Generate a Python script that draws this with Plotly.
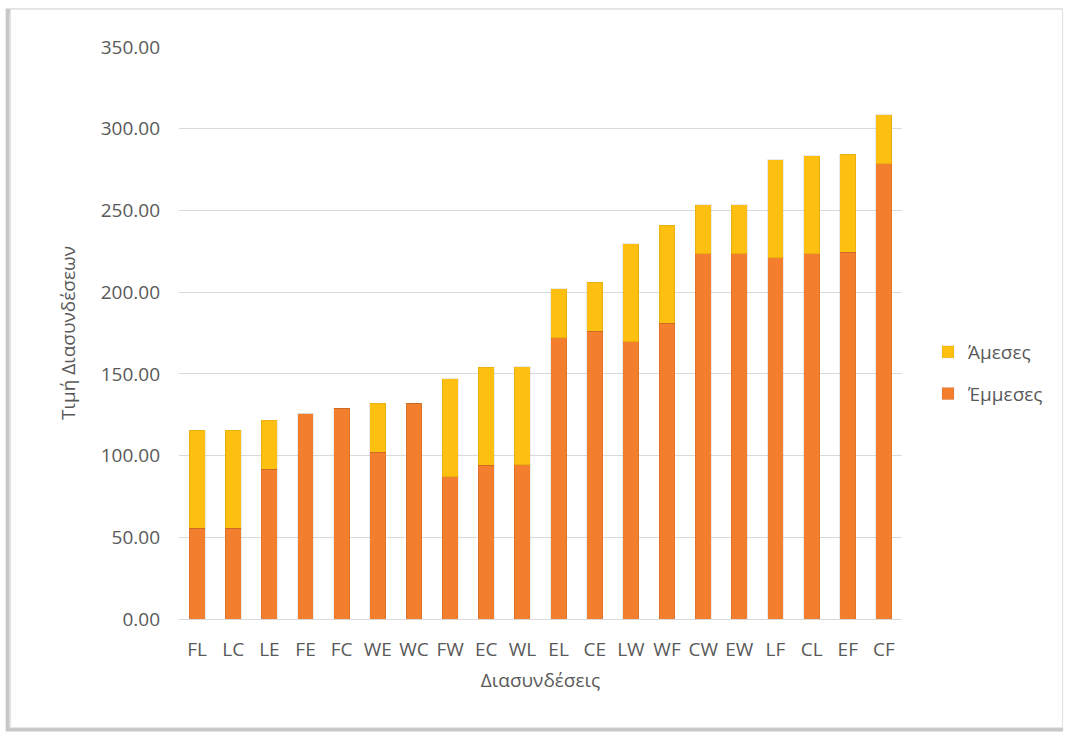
import plotly.graph_objects as go

# Interconnection pairs, sorted by total value
categories = ["FL", "LC", "LE", "FE", "FC", "WE", "WC", "FW", "EC", "WL",
              "EL", "CE", "LW", "WF", "CW", "EW", "LF", "CL", "EF", "CF"]

# Indirect component (bottom segment)
emmeses = [55.5, 55.5, 91.5, 125.5, 129.0, 102.0, 132.0, 87.0, 94.0, 94.5,
           172.0, 176.0, 169.5, 181.0, 223.5, 223.5, 221.0, 223.5, 224.5, 278.5]

# Direct component (top segment)
ameses = [60.0, 60.0, 30.0, 0.0, 0.0, 30.0, 0.0, 60.0, 60.0, 60.0,
          30.0, 30.0, 60.0, 60.0, 30.0, 30.0, 60.0, 60.0, 60.0, 30.0]

y_ticks = [0, 50, 100, 150, 200, 250, 300, 350]

FONT = "Open Sans, Lato, sans-serif"
TEXT_GREY = "#595959"
GRID = "#d9d9d9"
ORANGE = "#F27E2E"
GOLD = "#FDC010"
SIZE = 19

fig = go.Figure()
fig.add_trace(go.Bar(
    name="Έμμεσες", x=categories, y=emmeses,
    marker=dict(color=ORANGE, line=dict(color="rgba(0,0,0,0.08)", width=1)),
    legendgroup="e", legendrank=2,
))
fig.add_trace(go.Bar(
    name="Άμεσες", x=categories, y=ameses,
    marker=dict(color=GOLD, line=dict(color="rgba(0,0,0,0.08)", width=1)),
    legendgroup="a", legendrank=1,
))

fig.update_layout(
    barmode="stack",
    bargap=0.56,
    width=1067, height=734,
    margin=dict(l=179, r=165, t=47, b=115, autoexpand=False),
    paper_bgcolor="white",
    plot_bgcolor="white",
    font=dict(family=FONT, size=SIZE, color=TEXT_GREY),
    showlegend=True,
    legend=dict(
        x=1.036, xanchor="left", y=0.43, yanchor="middle",
        traceorder="grouped", tracegroupgap=14,
        font=dict(family=FONT, size=SIZE, color=TEXT_GREY),
        itemwidth=30, bgcolor="rgba(0,0,0,0)",
    ),
    xaxis=dict(
        showgrid=False, showline=True, linecolor=GRID, linewidth=1,
        ticks="", ticklabelstandoff=13,
        tickfont=dict(family=FONT, size=SIZE, color=TEXT_GREY),
        title=dict(text="Διασυνδέσεις", standoff=12,
                   font=dict(family=FONT, size=SIZE, color=TEXT_GREY)),
    ),
    yaxis=dict(
        range=[0, 350], tickvals=y_ticks, tickformat=".2f",
        showgrid=True, gridcolor=GRID, gridwidth=1,
        zeroline=False, showline=False, ticks="", ticklabelstandoff=18,
        tickfont=dict(family=FONT, size=SIZE, color=TEXT_GREY),
        title=dict(text="Τιμή Διασυνδέσεων", standoff=20,
                   font=dict(family=FONT, size=SIZE, color=TEXT_GREY)),
    ),
)

# Chart frame with a soft shadow on the left and bottom edges
fig.add_shape(type="rect", xref="paper", yref="paper",
              x0=-0.237, x1=1.220, y0=-0.193, y1=1.064,
              line=dict(color="rgba(0,0,0,0.22)", width=4), layer="below")
fig.add_shape(type="rect", xref="paper", yref="paper",
              x0=-0.233, x1=1.222, y0=-0.190, y1=1.066,
              line=dict(color="#e3e3e3", width=1), fillcolor="white", layer="below")

fig.write_html("out.html")
